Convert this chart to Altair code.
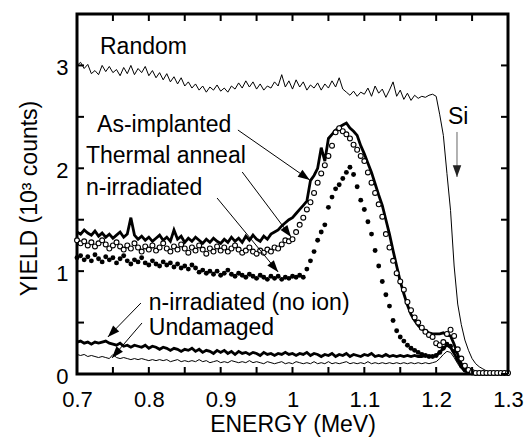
import math
import altair as alt
import pandas as pd

# ---------------- data (energy grid: 0.700 .. 1.300 MeV, step 0.005) ----------------
X0, STEP = 0.70, 0.005

random_y = [
    3.00, 3.03, 2.97, 3.01, 2.92, 2.95, 2.91, 3.00, 2.94, 2.99,
    2.93, 2.96, 2.90, 2.98, 2.92, 3.00, 2.91, 2.97, 2.93, 2.99,
    2.90, 2.95, 2.88, 2.93, 2.86, 2.92, 2.84, 2.89, 2.82, 2.88,
    2.80, 2.84, 2.78, 2.82, 2.76, 2.80, 2.74, 2.79, 2.76, 2.81,
    2.75, 2.78, 2.74, 2.80, 2.77, 2.83, 2.78, 2.85, 2.79, 2.84,
    2.77, 2.82, 2.76, 2.80, 2.78, 2.84, 2.80, 2.91, 2.79, 2.85,
    2.77, 2.86, 2.79, 2.84, 2.76, 2.81, 2.78, 2.83, 2.76, 2.82,
    2.78, 2.85, 2.79, 2.88, 2.77, 2.74, 2.71, 2.75, 2.70, 2.74,
    2.72, 2.78, 2.70, 2.80, 2.73, 2.77, 2.69, 2.76, 2.84, 2.70,
    2.76, 2.67, 2.73, 2.66, 2.71, 2.68, 2.70, 2.69, 2.71, 2.72,
    2.70, 2.52, 2.32, 1.95, 1.59, 1.05, 0.68, 0.48, 0.33, 0.23,
    0.15, 0.10, 0.07, 0.05, 0.03, 0.02, 0.015, 0.01, 0.01, 0.01,
    0.01,
]

as_implanted_y = [
    1.38, 1.36, 1.40, 1.37, 1.35, 1.39, 1.34, 1.37, 1.33, 1.36,
    1.32, 1.35, 1.38, 1.33, 1.36, 1.52, 1.35, 1.31, 1.34, 1.30,
    1.33, 1.29, 1.32, 1.35, 1.30, 1.33, 1.29, 1.40, 1.31, 1.34,
    1.28, 1.32, 1.29, 1.33, 1.30, 1.27, 1.31, 1.28, 1.32, 1.29,
    1.27, 1.31, 1.28, 1.33, 1.29, 1.32, 1.28, 1.34, 1.30, 1.35,
    1.31, 1.29, 1.34, 1.31, 1.36, 1.38, 1.40, 1.44, 1.47, 1.50,
    1.52, 1.56, 1.60, 1.64, 1.68, 1.88, 1.93, 2.00, 2.20, 2.07,
    2.29, 2.33, 2.37, 2.40, 2.42, 2.44, 2.39, 2.36, 2.32, 2.22,
    2.14, 2.05, 1.96, 1.85, 1.74, 1.64, 1.50, 1.36, 1.20, 1.05,
    0.90, 0.78, 0.67, 0.58, 0.52, 0.47, 0.44, 0.42, 0.40, 0.39,
    0.39, 0.39, 0.40, 0.38, 0.37, 0.29, 0.19, 0.10, 0.05, 0.03,
    0.02, 0.01, 0.01, 0.01, 0.01, 0.01, 0.01, 0.01, 0.01, 0.01,
    0.01,
]

thermal_y = [
    1.30, 1.27, 1.29, 1.25, 1.28, 1.24, 1.27, 1.30, 1.26, 1.22,
    1.25, 1.28, 1.24, 1.21, 1.25, 1.22, 1.27, 1.23, 1.19, 1.24,
    1.21, 1.25, 1.20, 1.23, 1.27, 1.22, 1.19, 1.24, 1.21, 1.26,
    1.22, 1.18, 1.23, 1.20, 1.25, 1.21, 1.17, 1.22, 1.19, 1.24,
    1.20, 1.23, 1.19, 1.22, 1.25, 1.21, 1.18, 1.20, 1.23, 1.19,
    1.17, 1.20, 1.18, 1.21, 1.19, 1.23, 1.22, 1.26, 1.30, 1.29,
    1.31, 1.38, 1.45, 1.52, 1.60, 1.67, 1.76, 1.86, 1.95, 2.03,
    2.12, 2.22, 2.35, 2.39, 2.36, 2.33, 2.29, 2.23, 2.18, 2.12,
    2.07, 1.96, 1.86, 1.76, 1.65, 1.53, 1.36, 1.23, 1.10, 0.98,
    0.90, 0.82, 0.70, 0.62, 0.55, 0.50, 0.45, 0.41, 0.38, 0.36,
    0.30, 0.28, 0.31, 0.39, 0.43, 0.37, 0.24, 0.15, 0.08, 0.04,
    0.02, 0.01, 0.01, 0.01, 0.01, 0.01, 0.01, 0.01, 0.01, 0.01,
    0.01,
]

n_irr_y = [
    1.13, 1.15, 1.11, 1.14, 1.10, 1.16, 1.12, 1.09, 1.14, 1.11,
    1.13, 1.08, 1.12, 1.15, 1.10, 1.07, 1.11, 1.09, 1.13, 1.08,
    1.06, 1.10, 1.07, 1.05, 1.09, 1.06, 1.08, 1.04, 1.07, 1.03,
    1.05, 1.02, 1.06, 1.03, 0.99, 1.01, 0.98, 1.00, 0.97, 1.00,
    0.96, 0.98, 1.01, 0.97, 0.95, 0.98, 0.96, 0.94, 0.97, 0.95,
    0.93, 0.96, 0.94, 0.92, 0.95, 0.93, 0.95, 0.92, 0.94, 0.93,
    0.95, 0.94, 0.96, 0.94, 1.02, 1.10, 1.19, 1.30, 1.38, 1.45,
    1.62, 1.72, 1.80, 1.84, 1.90, 1.96, 2.01, 1.94, 1.82, 1.69,
    1.60, 1.48, 1.36, 1.20, 1.05, 0.90, 0.77, 0.66, 0.52, 0.42,
    0.36, 0.32, 0.28, 0.25, 0.23, 0.21, 0.19, 0.18, 0.17, 0.17,
    0.18, 0.21, 0.25, 0.29, 0.27, 0.22, 0.15, 0.08, 0.04, 0.02,
    0.01, 0.01, 0.01, 0.01, 0.01, 0.01, 0.01, 0.01, 0.01, 0.01,
    0.01,
]

no_ion_y = [
    0.31, 0.32, 0.30, 0.31, 0.29, 0.31, 0.30, 0.31, 0.32, 0.30,
    0.29, 0.28, 0.30, 0.27, 0.28, 0.26, 0.28, 0.27, 0.26, 0.28,
    0.25, 0.27, 0.26, 0.24, 0.26, 0.25, 0.23, 0.25, 0.24, 0.22,
    0.24, 0.23, 0.25, 0.22, 0.24, 0.21, 0.23, 0.22, 0.20, 0.23,
    0.21, 0.23, 0.20, 0.22, 0.19, 0.22, 0.20, 0.21, 0.19, 0.21,
    0.20, 0.18, 0.21, 0.19, 0.20, 0.18, 0.20, 0.19, 0.21, 0.19,
    0.20, 0.18, 0.20, 0.19, 0.21, 0.18, 0.20, 0.19, 0.17, 0.19,
    0.18, 0.20, 0.17, 0.19, 0.18, 0.20, 0.17, 0.19, 0.18, 0.17,
    0.19, 0.18, 0.20, 0.17, 0.18, 0.17, 0.19, 0.17, 0.18, 0.17,
    0.18, 0.17, 0.18, 0.17, 0.18, 0.17, 0.17, 0.18, 0.17, 0.17,
    0.18, 0.21, 0.25, 0.28, 0.26, 0.20, 0.13, 0.07, 0.03, 0.02,
    0.01, 0.01, 0.01, 0.01, 0.01, 0.01, 0.01, 0.01, 0.01, 0.01,
    0.01,
]

undamaged_y = [
    0.19, 0.18, 0.19, 0.17, 0.18, 0.17, 0.16, 0.17, 0.16, 0.15,
    0.19, 0.16, 0.15, 0.16, 0.15, 0.14, 0.15, 0.14, 0.15, 0.14,
    0.13, 0.14, 0.13, 0.14, 0.13, 0.14, 0.12, 0.13, 0.14, 0.12,
    0.13, 0.12, 0.13, 0.12, 0.14, 0.12, 0.13, 0.11, 0.12, 0.13,
    0.11, 0.12, 0.11, 0.13, 0.12, 0.11, 0.12, 0.11, 0.13, 0.11,
    0.12, 0.11, 0.10, 0.12, 0.11, 0.10, 0.11, 0.12, 0.10, 0.11,
    0.10, 0.12, 0.11, 0.10, 0.11, 0.10, 0.12, 0.10, 0.11, 0.10,
    0.12, 0.10, 0.11, 0.10, 0.11, 0.12, 0.10, 0.11, 0.10, 0.11,
    0.10, 0.12, 0.10, 0.11, 0.10, 0.11, 0.10, 0.11, 0.10, 0.11,
    0.10, 0.11, 0.10, 0.11, 0.10, 0.11, 0.10, 0.11, 0.10, 0.11,
    0.12, 0.15, 0.19, 0.22, 0.21, 0.16, 0.10, 0.05, 0.02, 0.01,
    0.01, 0.01, 0.01, 0.01, 0.01, 0.01, 0.01, 0.01, 0.01, 0.01,
    0.01,
]

# annotation labels
label_text = ["Random", "As-implanted", "Thermal anneal", "n-irradiated",
              "n-irradiated (no ion)", "Undamaged", "Si"]
label_x = [0.732, 0.728, 0.7125, 0.7125, 0.800, 0.800, 1.2165]
label_y = [3.18, 2.42, 2.12, 1.81, 0.69, 0.447, 2.50]

# annotation arrows (tail -> tip)
arrow_x1 = [0.924, 0.930, 0.895, 0.789, 0.7905, 1.229]
arrow_y1 = [2.372, 1.964, 1.711, 0.690, 0.496, 2.353]
arrow_x2 = [1.024, 0.998, 0.980, 0.743, 0.7487, 1.229]
arrow_y2 = [1.886, 1.332, 0.992, 0.360, 0.156, 1.915]
arrow_color = ["black", "black", "black", "black", "black", "#666666"]

x_ticks = [0.70, 0.75, 0.80, 0.85, 0.90, 0.95, 1.00, 1.05, 1.10, 1.15, 1.20, 1.25, 1.30]
y_ticks = [0.0, 0.5, 1.0, 1.5, 2.0, 2.5, 3.0, 3.5]
x_labels = [0.7, 0.8, 0.9, 1.0, 1.1, 1.2, 1.3]
y_labels = [0, 1, 2, 3]

# ---------------- chart ----------------
W, H = 431, 360
XDOM, YDOM = [0.7, 1.3], [0, 3.5]
FONT = "Liberation Sans"

xs = alt.Scale(domain=XDOM, nice=False, zero=False)
ys = alt.Scale(domain=YDOM, nice=False, zero=False)

x_axis = alt.Axis(values=x_labels, format="~g", title="ENERGY (MeV)",
                  grid=False, domain=False, ticks=False, tickSize=0,
                  labelFlush=False, labelOverlap=False,
                  labelFont=FONT, labelFontSize=22, labelColor="black",
                  labelBaseline="middle", labelPadding=25,
                  titleFont=FONT, titleFontSize=23, titleFontWeight="normal",
                  titleColor="black", titleBaseline="middle", titleY=50,
                  titleX=W / 2)
y_axis = alt.Axis(values=y_labels, format="d", title="YIELD (10³ counts)",
                  grid=False, domain=False, ticks=False, tickSize=0,
                  labelFlush=False, labelOverlap=False,
                  labelFont=FONT, labelFontSize=22, labelColor="black",
                  labelPadding=9, labelOffset=2,
                  titleFont=FONT, titleFontSize=23, titleFontWeight="normal",
                  titleColor="black", titleAngle=270, titleBaseline="middle",
                  titleAlign="center", titleX=-48, titleY=H / 2 + 4)


def series(vals):
    return pd.DataFrame({"x": [round(X0 + STEP * i, 3) for i in range(len(vals))], "y": vals})


def X(field="x"):
    return alt.X(f"{field}:Q", scale=xs, axis=x_axis, title="ENERGY (MeV)")


def Y(field="y"):
    return alt.Y(f"{field}:Q", scale=ys, axis=y_axis, title="YIELD (10³ counts)")


random_line = alt.Chart(series(random_y)).mark_line(color="black", strokeWidth=1).encode(x=X(), y=Y())
undamaged = alt.Chart(series(undamaged_y)).mark_line(color="black", strokeWidth=1).encode(x=X(), y=Y())
no_ion = alt.Chart(series(no_ion_y)).mark_line(color="black", strokeWidth=2.8).encode(x=X(), y=Y())
as_impl = alt.Chart(series(as_implanted_y)).mark_line(color="black", strokeWidth=2.8).encode(x=X(), y=Y())
thermal = alt.Chart(series(thermal_y)).mark_point(
    shape="circle", filled=True, fill="white", stroke="black", strokeWidth=1.1, size=24, opacity=1
).encode(x=X(), y=Y())
n_irr = alt.Chart(series(n_irr_y)).mark_point(
    shape="circle", filled=True, color="black", size=24, opacity=1
).encode(x=X(), y=Y())

labels = alt.Chart(pd.DataFrame({"x": label_x, "y": label_y, "t": label_text})).mark_text(
    align="left", baseline="middle", font=FONT, fontSize=23, color="black"
).encode(x=X(), y=Y(), text="t:N")

# arrows
px_per_x = W / (XDOM[1] - XDOM[0])
px_per_y = H / (YDOM[1] - YDOM[0])
angles = []
for x1, y1, x2, y2 in zip(arrow_x1, arrow_y1, arrow_x2, arrow_y2):
    dx = (x2 - x1) * px_per_x
    dy = -(y2 - y1) * px_per_y
    a = math.degrees(math.atan2(dx, -dy)) % 360
    angles.append(a)

arrows_df = pd.DataFrame({"x": arrow_x1, "y": arrow_y1, "x2": arrow_x2, "y2": arrow_y2,
                          "c": arrow_color, "angle": angles,
                          "hc": ["black"] * 5 + ["#222222"]})
arrow_lines = alt.Chart(arrows_df).mark_rule(strokeWidth=1).encode(
    x=X(), y=Y(), x2="x2:Q", y2="y2:Q", color=alt.Color("c:N", scale=None)
)
arrow_heads = alt.Chart(arrows_df).mark_point(
    shape="M0,0L-0.36,1L0.36,1Z", filled=True, size=560, opacity=1, strokeWidth=0
).encode(
    x=X("x2"), y=Y("y2"), angle=alt.Angle("angle:Q", scale=None),
    color=alt.Color("hc:N", scale=None)
)

# inward ticks on all four sides
TL = 7
xt = pd.DataFrame({"x": x_ticks})
yt = pd.DataFrame({"y": y_ticks})
tick_b = alt.Chart(xt).mark_rule(color="black", strokeWidth=2).encode(
    x=X(), y=alt.value(H), y2=alt.value(H - TL))
tick_t = alt.Chart(xt).mark_rule(color="black", strokeWidth=2).encode(
    x=X(), y=alt.value(0), y2=alt.value(TL))
tick_l = alt.Chart(yt).mark_rule(color="black", strokeWidth=2).encode(
    y=Y(), x=alt.value(0), x2=alt.value(TL))
tick_r = alt.Chart(yt).mark_rule(color="black", strokeWidth=2).encode(
    y=Y(), x=alt.value(W), x2=alt.value(W - TL))

chart = alt.layer(
    random_line, undamaged, no_ion, n_irr, as_impl, thermal,
    arrow_lines, arrow_heads, labels,
    tick_b, tick_t, tick_l, tick_r,
).properties(
    width=W, height=H,
    padding={"left": 77, "top": 14, "right": 19, "bottom": 65},
    autosize=alt.AutoSizeParams(type="none"),
    background="white",
).configure_view(stroke="black", strokeWidth=3)

chart.save("out.html", embed_options={"renderer": "svg", "actions": False})
